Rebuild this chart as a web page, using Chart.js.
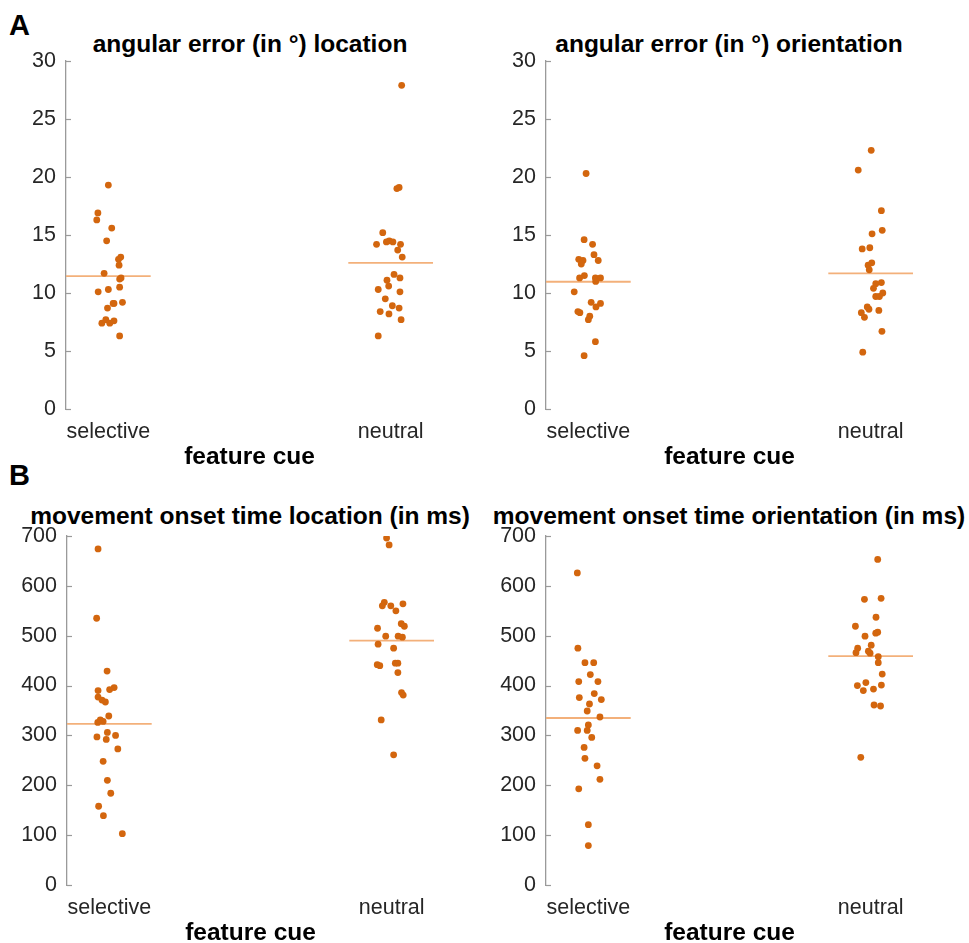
<!DOCTYPE html>
<html lang="en">
<head>
  <meta charset="UTF-8" />
  <title>Feature cue results</title>
  <script src="https://cdn.jsdelivr.net/npm/chart.js"></script>
  <style>
    html, body { margin: 0; padding: 0; background: #fff; overflow: hidden; }
    body { width: 969px; height: 943px; position: relative; font-family: 'Liberation Sans', Arial, sans-serif; }
    .panel { position: absolute; }
    .letter { position: absolute; font-weight: bold; font-size: 29px; line-height: 29px; color: #000; }
    .title { position: absolute; width: 520px; text-align: center; font-weight: bold; font-size: 24.5px; line-height: 29px; color: #000; white-space: nowrap; }
  </style>
</head>
<body>
  <div class="letter" style="left:9px; top:11px;">A</div>
  <div class="letter" style="left:9px; top:461px;">B</div>

  <div class="title" style="left:-10px; top:29px;">angular error (in °) location</div>
  <div class="title" style="left:469px; top:29px;">angular error (in °) orientation</div>
  <div class="title" style="left:-10px; top:501px;">movement onset time location (in ms)</div>
  <div class="title" style="left:469px; top:501px;">movement onset time orientation (in ms)</div>

  <div class="panel" style="left:0px; top:0px; width:480px; height:472px;"><canvas id="c1"></canvas></div>
  <div class="panel" style="left:480px; top:0px; width:480px; height:472px;"><canvas id="c2"></canvas></div>
  <div class="panel" style="left:0px; top:470px; width:480px; height:478px;"><canvas id="c3"></canvas></div>
  <div class="panel" style="left:480px; top:470px; width:489px; height:478px;"><canvas id="c4"></canvas></div>

  <script>
    const categories = ['selective', 'neutral'];

    // A left: angular error, location
    const locErrSelective = [19.3, 16.9, 16.3, 15.6, 14.5, 13.1, 12.9, 12.4, 11.7, 11.3, 11.2, 10.3, 10.5, 10.1, 8.7, 9.1, 9.2, 9.1, 7.4, 7.7, 7.4, 7.6, 6.3];
    const locErrSelectiveJitter = [0, -0.037, -0.041, 0.012, -0.006, 0.044, 0.036, 0.038, -0.015, 0.045, 0.04, 0, 0.04, -0.036, -0.003, 0.02, 0.05, 0.017, -0.023, -0.009, 0.005, 0.02, 0.04];
    const locErrNeutral = [27.9, 19.1, 19.0, 15.2, 14.2, 14.4, 14.5, 14.4, 14.2, 13.7, 13.1, 11.6, 11.1, 11.3, 10.3, 10.6, 10.1, 9.5, 8.9, 8.7, 8.4, 8.2, 7.7, 6.3];
    const locErrNeutralJitter = [0.039, 0.03, 0.022, -0.028, -0.05, -0.015, -0.005, 0.008, 0.035, 0.025, 0.041, 0.012, -0.013, 0.033, -0.044, -0.007, 0.033, -0.019, 0.006, 0.03, -0.037, -0.006, 0.037, -0.044];
    const locErrMeans = [11.45, 12.6];

    // A right: angular error, orientation
    const oriErrSelective = [20.3, 14.6, 14.2, 13.3, 12.9, 12.8, 12.8, 12.5, 11.5, 11.3, 11.3, 11.3, 11.0, 10.1, 9.2, 9.1, 8.8, 8.4, 8.3, 8.0, 7.7, 5.8, 4.6];
    const oriErrSelectiveJitter = [-0.008, -0.015, 0.015, 0.02, -0.034, -0.019, 0.035, -0.025, -0.014, -0.031, 0.025, 0.043, 0.026, -0.05, 0.01, 0.043, 0.027, -0.037, -0.03, 0.005, 0, 0.025, -0.015];
    const oriErrNeutral = [22.3, 20.6, 17.1, 15.4, 15.1, 13.8, 13.9, 12.6, 12.4, 12.0, 10.9, 10.8, 10.4, 10.0, 9.7, 9.7, 8.8, 8.6, 8.5, 8.3, 7.9, 6.7, 4.9];
    const oriErrNeutralJitter = [0.002, -0.044, 0.038, 0.041, 0.005, -0.03, -0.003, 0.004, -0.009, -0.005, 0.038, 0.018, 0.01, 0.043, 0.018, 0.031, -0.012, -0.006, 0.029, -0.033, -0.022, 0.04, -0.028];
    const oriErrMeans = [10.97, 11.7];

    // B left: movement onset time, location
    const locRtSelective = [674, 535, 429, 396, 392, 390, 377, 371, 367, 339, 331, 328, 326, 306, 300, 297, 292, 273, 248, 210, 184, 158, 139, 103];
    const locRtSelectiveJitter = [-0.04, -0.045, -0.008, 0.017, 0.001, -0.04, -0.04, -0.026, -0.014, -0.002, -0.032, -0.022, -0.041, -0.007, 0.022, -0.044, -0.011, 0.03, -0.022, -0.007, 0.005, -0.038, -0.021, 0.046];
    const locRtNeutral = [696, 682, 567, 560, 560, 564, 550, 524, 519, 515, 499, 499, 497, 483, 475, 442, 440, 445, 445, 426, 386, 381, 331, 261];
    const locRtNeutralJitter = [-0.018, -0.009, -0.026, -0.033, -0.003, 0.04, 0.015, 0.034, 0.045, -0.05, -0.021, 0.023, 0.038, -0.048, 0.007, -0.051, -0.042, 0.013, 0.022, 0.022, 0.035, 0.041, -0.037, 0.007];
    const locRtMeans = [323, 490];

    // B right: movement onset time, orientation
    const oriRtSelective = [626, 475, 446, 446, 422, 408, 408, 384, 376, 372, 363, 349, 337, 321, 310, 310, 296, 276, 254, 239, 212, 193, 121, 79];
    const oriRtSelectiveJitter = [-0.039, -0.037, -0.012, 0.019, 0.007, -0.034, 0.034, 0.021, -0.032, 0.046, 0.004, -0.004, 0.041, 0, -0.038, -0.004, 0.012, -0.015, -0.012, 0.031, 0.041, -0.034, 0, 0];
    const oriRtNeutral = [653, 573, 575, 537, 519, 505, 507, 499, 481, 475, 466, 469, 465, 458, 446, 423, 400, 406, 401, 390, 393, 361, 359, 256];
    const oriRtNeutralJitter = [0.025, -0.022, 0.037, 0.019, -0.054, 0.018, 0.025, -0.02, 0.002, -0.046, -0.052, -0.008, -0.002, 0.027, 0.027, 0.041, -0.047, -0.017, 0.038, -0.026, 0.01, 0.012, 0.035, -0.035];
    const oriRtMeans = [335, 459];

    const FONT = "'Liberation Sans', Arial, sans-serif";
    const dotColor = '#D3660E';
    const meanColor = '#F3B07A';
    const axisGray = '#9a9a9a';
    const textColor = '#262626';

    // MATLAB style ticks pointing into the plot
    const innerTicks = {
      id: 'innerTicks',
      beforeDatasetsDraw(chart) {
        const y = chart.scales.y, ctx = chart.ctx;
        ctx.save();
        ctx.strokeStyle = axisGray;
        ctx.lineWidth = 1.2;
        y.ticks.forEach(t => {
          const py = Math.round(y.getPixelForValue(t.value)) + 0.5;
          ctx.beginPath();
          ctx.moveTo(y.right, py);
          ctx.lineTo(y.right + 5, py);
          ctx.stroke();
        });
        ctx.restore();
      }
    };

    function points(values, jitter, cat) {
      return values.map((v, i) => ({ x: cat + jitter[i], y: v }));
    }

    function meanLine(m, cat) {
      return {
        type: 'line',
        data: [{ x: cat - 0.15, y: m }, { x: cat + 0.15, y: m }],
        borderColor: meanColor,
        borderWidth: 1.8,
        pointRadius: 0,
        fill: false
      };
    }

    function makePanel(id, p) {
      new Chart(document.getElementById(id), {
        type: 'scatter',
        data: {
          datasets: [
            { data: points(p.sel, p.selJit, 1), backgroundColor: dotColor, borderWidth: 0, pointRadius: 3.4 },
            { data: points(p.neu, p.neuJit, 2), backgroundColor: dotColor, borderWidth: 0, pointRadius: 3.4 },
            meanLine(p.means[0], 1),
            meanLine(p.means[1], 2)
          ]
        },
        options: {
          responsive: true,
          maintainAspectRatio: false,
          animation: false,
          events: [],
          layout: { padding: { top: p.padTop, left: 0, bottom: 0, right: p.padRight } },
          plugins: {
            legend: { display: false },
            tooltip: { enabled: false },
            title: { display: false }
          },
          scales: {
            x: {
              type: 'linear',
              min: 0.85,
              max: 2.15,
              grid: { display: false },
              border: { display: false },
              afterBuildTicks: s => { s.ticks = [{ value: 1 }, { value: 2 }]; },
              afterFit: s => { s.height = 63; },
              ticks: {
                autoSkip: false,
                maxRotation: 0,
                padding: 2,
                color: textColor,
                font: { family: FONT, size: 21.5 },
                callback: v => categories[v - 1]
              },
              title: {
                display: true,
                text: 'feature cue',
                color: '#000',
                padding: { top: 0, bottom: 0 },
                font: { family: FONT, size: 24.5, weight: 'bold', lineHeight: 1.2 }
              }
            },
            y: {
              min: 0,
              max: p.yMax,
              grid: { display: false, drawTicks: false },
              border: { display: true, color: axisGray, width: 1.3 },
              afterFit: s => { s.width = p.yWidth; },
              ticks: {
                stepSize: p.yStep,
                padding: 10,
                color: textColor,
                font: { family: FONT, size: 21.5 }
              }
            }
          }
        },
        plugins: [innerTicks]
      });
    }

    makePanel('c1', {
      sel: locErrSelective, selJit: locErrSelectiveJitter,
      neu: locErrNeutral, neuJit: locErrNeutralJitter, means: locErrMeans,
      yMax: 30, yStep: 5, yWidth: 66, padRight: 47, padTop: 61
    });
    makePanel('c2', {
      sel: oriErrSelective, selJit: oriErrSelectiveJitter,
      neu: oriErrNeutral, neuJit: oriErrNeutralJitter, means: oriErrMeans,
      yMax: 30, yStep: 5, yWidth: 66, padRight: 47, padTop: 61
    });
    makePanel('c3', {
      sel: locRtSelective, selJit: locRtSelectiveJitter,
      neu: locRtNeutral, neuJit: locRtNeutralJitter, means: locRtMeans,
      yMax: 700, yStep: 100, yWidth: 67, padRight: 46, padTop: 66
    });
    makePanel('c4', {
      sel: oriRtSelective, selJit: oriRtSelectiveJitter,
      neu: oriRtNeutral, neuJit: oriRtNeutralJitter, means: oriRtMeans,
      yMax: 700, yStep: 100, yWidth: 66, padRight: 56, padTop: 66
    });
  </script>
</body>
</html>
